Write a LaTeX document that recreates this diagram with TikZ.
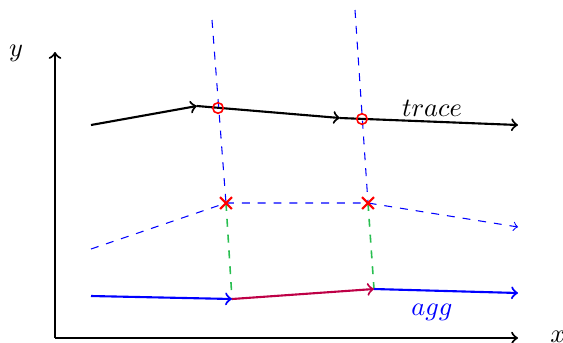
\documentclass[tikz,border=0pt]{standalone}
\usepackage{amsmath}
\usepackage{xcolor}
\usepackage{tikz}
\usetikzlibrary{shapes.misc}
\definecolor{linkgreen}{RGB}{40, 190, 80}
\definecolor{aggpurple}{RGB}{190, 0, 70}

\tikzset{
    tracemark/.style={circle, draw=red, semithick, inner sep=0pt, minimum size=0.14cm},
    crossmark/.style={cross out, draw=red, thick, inner sep=0pt, minimum size=0.13cm},
    guide/.style={blue, dashed},
    link/.style={linkgreen, dashed, semithick}
}

\begin{document}
\begin{tikzpicture}[x=0.0133cm, y=-0.0133cm]
    \useasboundingbox (0,0) rectangle (563,342);
    % axes
    \coordinate (o) at (55,338);
    \coordinate (xend) at (518,338);
    \coordinate (yend) at (55,52);
    \draw[thick, ->] (o) -- (xend);
    \draw[thick, ->] (o) -- (yend);
    \node (xlab) at (558,337) {$x$};
    \node (ylab) at (16,53) {$y$};

    % trace
    \coordinate (t0) at (91,125);
    \coordinate (t1) at (197,106);
    \coordinate (t2) at (340,118);
    \coordinate (t3) at (518,125);
    \draw[thick, ->] (t0) -- (t1);
    \draw[thick, ->] (t1) -- (t2);
    \draw[thick, ->] (t2) -- (t3);
    \node (tracelab) at (432,108) {$trace$};

    % sampled points
    \coordinate (s1top) at (212,20);
    \coordinate (s2top) at (355,10);
    \coordinate (m1) at (226,203);
    \coordinate (m2) at (368,203);
    \coordinate (b0) at (91,249);
    \coordinate (b3) at (518,227);
    \draw[guide] (s1top) -- (m1);
    \draw[guide] (s2top) -- (m2);
    \draw[guide, ->] (b0) -- (m1) -- (m2) -- (b3);

    % agg
    \coordinate (a0) at (91,296);
    \coordinate (a1) at (232,299);
    \coordinate (a2) at (374,289);
    \coordinate (a3) at (518,293);
    \draw[link] (m1) -- (a1);
    \draw[link] (m2) -- (a2);
    \draw[thick, blue, ->] (a0) -- (a1);
    \draw[thick, aggpurple, ->] (a1) -- (a2);
    \draw[thick, blue, ->] (a2) -- (a3);
    \node[blue] (agglab) at (432,312) {$agg$};

    % marks
    \node[tracemark] (c1) at (218,108) {};
    \node[tracemark] (c2) at (362,119) {};
    \node[crossmark] (x1) at (m1) {};
    \node[crossmark] (x2) at (m2) {};
\end{tikzpicture}
\end{document}
